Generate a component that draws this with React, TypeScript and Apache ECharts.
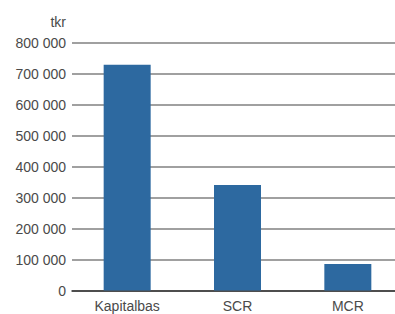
import React, { useEffect, useRef } from "react";
import * as echarts from "echarts";

const categories = ["Kapitalbas", "SCR", "MCR"];
const values = [730000, 341000, 86000];
const unitLabel = "tkr";

export default function App() {
  const ref = useRef<HTMLDivElement>(null);
  useEffect(() => {
    const chart = echarts.init(ref.current!, null, { renderer: "svg" });
    chart.setOption({
      animation: false,
      grid: { left: 72, right: 0, top: 43, bottom: 23.5, containLabel: false },
      xAxis: {
        type: "category",
        data: categories,
        axisLine: { lineStyle: { color: "#333", width: 1.5 } },
        axisTick: { show: false },
        axisLabel: { color: "#4a4a4a", fontSize: 14, margin: 8, fontFamily: "Liberation Sans" },
      },
      yAxis: {
        type: "value",
        min: 0,
        max: 800000,
        interval: 100000,
        name: unitLabel,
        nameLocation: "end",
        nameGap: 14,
        nameTextStyle: { color: "#4a4a4a", fontSize: 14, align: "right", padding: [0, 6, 0, 0], fontFamily: "Liberation Sans" },
        axisLine: { show: false },
        axisTick: { show: false },
        splitLine: { lineStyle: { color: "#808080", width: 1.5 } },
        axisLabel: {
          color: "#4a4a4a",
          fontSize: 14,
          margin: 6,
          fontFamily: "Liberation Sans",
          formatter: (v: number) => String(v).replace(/\B(?=(\d{3})+(?!\d))/g, " "),
        },
      },
      series: [
        {
          type: "bar",
          data: values,
          barWidth: 47,
          itemStyle: { color: "#2d69a0" },
        },
      ],
    });
    return () => chart.dispose();
  }, []);
  return (
    <div style={{ width: 395, height: 314, position: "absolute", left: 0, top: 0, overflow: "hidden" }}>
      <div ref={ref} style={{ width: 403, height: 314 }} />
    </div>
  );
}
